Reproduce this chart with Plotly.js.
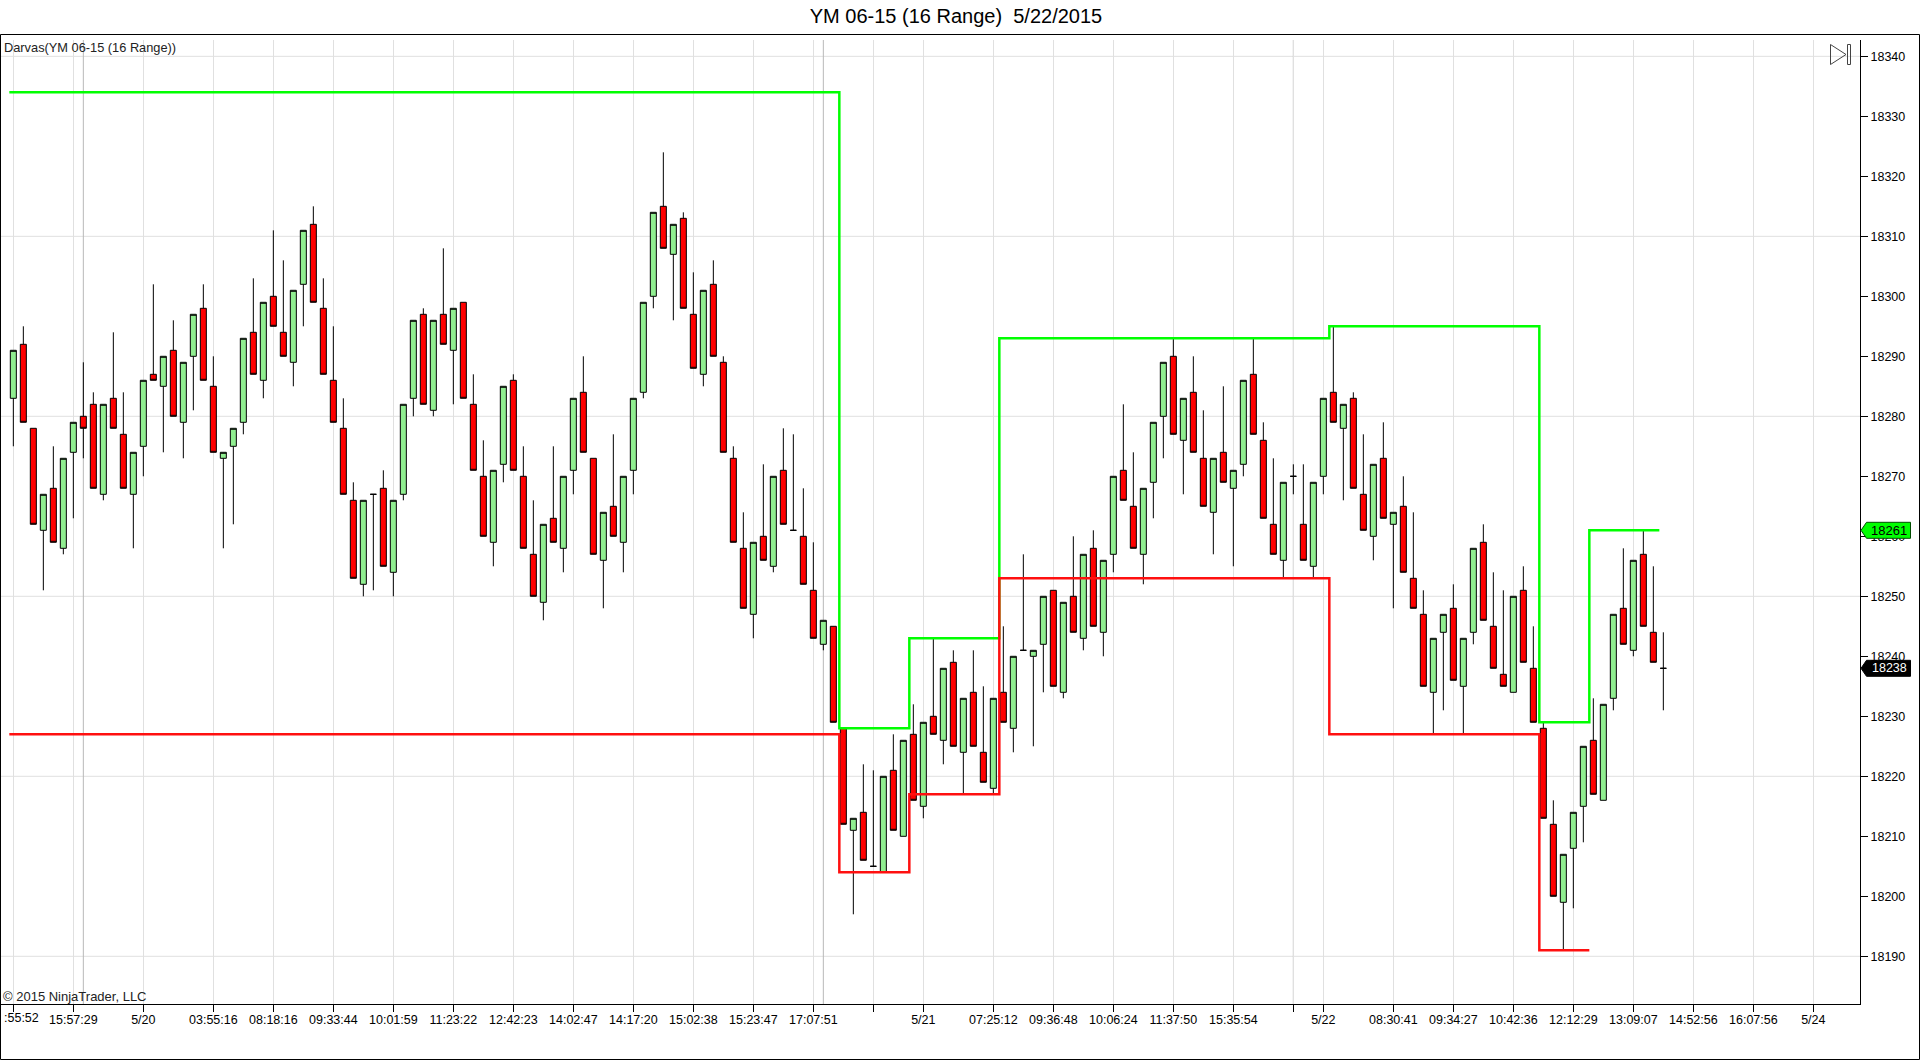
<!DOCTYPE html>
<html>
<head>
<meta charset="utf-8">
<title>YM 06-15 (16 Range) 5/22/2015</title>
<script src="https://cdn.plot.ly/plotly-3.0.1.min.js"></script>
<style>html,body{margin:0;padding:0;background:#fff;overflow:hidden}#chart{width:1920px;height:1060px}</style>
</head>
<body>
<div id="chart"></div>
<script>
const opens = [18283,18292,18278,18261,18268,18258,18274,18280,18282,18267,
18283,18277,18267,18275,18287,18285,18291,18279,18290,18298,
18285,18273,18275,18279,18294,18286,18300,18294,18289,18302,
18312,18298,18286,18278,18266,18252,18267,18268,18254,18267,
18283,18297,18281,18297,18291,18299,18282,18270,18259,18272,
18286,18270,18257,18249,18263,18258,18271,18284,18273,18256,
18265,18259,18271,18284,18300,18315,18307,18313,18297,18287,
18302,18289,18273,18258,18247,18260,18255,18271,18261,18260,
18251,18242,18245,18228,18211,18214,18205,18204,18221,18210,
18227,18215,18230,18226,18239,18224,18234,18224,18218,18234,
18228,18241,18240,18242,18251,18234,18250,18243,18258,18244,
18257,18271,18265,18257,18269,18280,18290,18276,18284,18273,
18264,18274,18268,18272,18287,18276,18262,18256,18270,18262,
18255,18270,18284,18278,18283,18267,18260,18273,18262,18265,
18253,18247,18234,18244,18248,18235,18244,18259,18245,18237,
18234,18251,18238,18228,18212,18199,18208,18215,18226,18216,
18233,18248,18241,18257,18244,18238];
const highs = [18291,18295,18278,18267,18275,18273,18279,18289,18284,18282,
18294,18284,18274,18286,18302,18290,18296,18289,18297,18302,
18290,18274,18278,18293,18303,18299,18311,18306,18301,18311,
18315,18303,18295,18283,18269,18266,18267,18271,18266,18282,
18296,18298,18296,18308,18298,18299,18287,18276,18271,18285,
18287,18275,18266,18262,18275,18270,18283,18290,18273,18264,
18277,18270,18283,18299,18314,18324,18312,18314,18304,18301,
18306,18290,18275,18264,18259,18272,18270,18278,18277,18268,
18259,18246,18245,18228,18213,18222,18221,18220,18227,18226,
18232,18229,18243,18238,18241,18233,18241,18235,18233,18245,
18240,18257,18241,18250,18251,18249,18260,18257,18261,18256,
18270,18282,18274,18268,18279,18289,18293,18283,18290,18281,
18273,18285,18271,18286,18293,18279,18273,18269,18272,18272,
18269,18283,18295,18282,18284,18277,18272,18279,18264,18270,
18264,18251,18243,18247,18252,18243,18258,18262,18254,18251,
18250,18255,18245,18229,18216,18207,18214,18225,18233,18232,
18247,18258,18256,18261,18255,18244];
const lows = [18275,18279,18262,18251,18259,18257,18263,18273,18268,18266,
18278,18268,18258,18270,18286,18274,18280,18273,18281,18286,
18274,18258,18262,18277,18287,18283,18295,18290,18285,18295,
18299,18287,18279,18267,18253,18250,18251,18255,18250,18266,
18280,18282,18280,18292,18282,18283,18271,18260,18255,18269,
18271,18258,18250,18246,18259,18254,18267,18274,18257,18248,
18260,18254,18267,18283,18298,18308,18296,18298,18288,18285,
18290,18274,18259,18248,18243,18256,18254,18262,18261,18252,
18243,18241,18229,18212,18197,18206,18205,18204,18211,18210,
18216,18213,18227,18222,18225,18217,18225,18219,18217,18229,
18224,18241,18225,18234,18235,18233,18244,18241,18245,18240,
18254,18266,18258,18252,18263,18273,18277,18267,18274,18265,
18257,18269,18255,18270,18277,18263,18257,18253,18267,18256,
18253,18267,18279,18266,18268,18261,18256,18263,18248,18254,
18248,18235,18227,18231,18236,18227,18242,18246,18238,18235,
18234,18239,18229,18213,18200,18191,18198,18209,18217,18216,
18231,18242,18240,18245,18239,18231];
const closes = [18291,18279,18262,18267,18259,18273,18279,18278,18268,18282,
18278,18268,18274,18286,18286,18290,18280,18289,18297,18286,
18274,18274,18278,18293,18287,18299,18295,18290,18301,18311,
18299,18287,18279,18267,18253,18266,18267,18255,18266,18282,
18296,18282,18296,18292,18298,18283,18271,18260,18271,18285,
18271,18258,18250,18262,18259,18270,18283,18274,18257,18264,
18260,18270,18283,18299,18314,18308,18312,18298,18288,18301,
18290,18274,18259,18248,18259,18256,18270,18262,18261,18252,
18243,18246,18229,18212,18213,18206,18205,18220,18211,18226,
18216,18229,18227,18238,18225,18233,18225,18219,18233,18229,
18240,18241,18241,18250,18235,18249,18244,18257,18245,18256,
18270,18266,18258,18268,18279,18289,18277,18283,18274,18265,
18273,18269,18271,18286,18277,18263,18257,18269,18270,18256,
18269,18283,18279,18282,18268,18261,18272,18263,18264,18254,
18248,18235,18243,18247,18236,18243,18258,18246,18238,18235,
18250,18239,18229,18213,18200,18207,18214,18225,18217,18232,
18247,18242,18256,18245,18239,18238];

const darvasTopX = [-0.4,82.6,89.6,98.6,131.6,152.6,157.6,164.6];
const darvasTopY = [18334,18228,18243,18293,18295,18229,18261,18261];
const darvasBottomX = [-0.4,82.6,89.6,98.6,131.6,152.6,157.6];
const darvasBottomY = [18227,18204,18217,18253,18227,18191,18191];

const xTickBars = [0,6,13,20,26,32,38,44,50,56,62,68,74,80,86,91,98,104,110,116,122,128,131,138,144,150,156,162,168,174,180];
const xTickLabels = ['','15:57:29','5/20','03:55:16','08:18:16','09:33:44','10:01:59','11:23:22','12:42:23','14:02:47','14:17:20','15:02:38','15:23:47','17:07:51','','5/21','07:25:12','09:36:48','10:06:24','11:37:50','15:35:54','','5/22','08:30:41','09:34:27','10:42:36','12:12:29','13:09:07','14:52:56','16:07:56','5/24'];
const clippedFirstLabel = ':55:52';
const sessionBreakBars = [7,81,128];
const priceTicks = [18190,18200,18210,18220,18230,18240,18250,18260,18270,18280,18290,18300,18310,18320,18330,18340];
const priceGrid = [18190,18220,18250,18280,18310,18340];
const lastHigh = 18261, lastPrice = 18238;

const W = 1920, H = 1060, M = {l:1, r:60, t:40, b:56, pad:0, autoexpand:false};
const px = x => (x - M.l) / (W - M.l - M.r);
const py = y => 1 - (y - M.t) / (H - M.t - M.b);
const barIndex = opens.map((_, i) => i);
const FAMILY = '"Liberation Sans", Arial, sans-serif';
const AXIS_FONT = {family:FAMILY, size:12.5, color:'#000'};

const tagPath = 'M 1 0 L 6.5 -8 L 50.5 -8 L 50.5 8 L 6.5 8 Z';
const shapes = [];
priceGrid.forEach(v => shapes.push({type:'line', xref:'paper', yref:'y', x0:0, x1:1, y0:v, y1:v, layer:'below', line:{color:'#e0e0e0', width:1}}));
sessionBreakBars.forEach(b => shapes.push({type:'line', xref:'x', yref:'paper', x0:b, x1:b, y0:0, y1:1, layer:'below', line:{color:'#b8b8b8', width:1}}));
// outer frame
shapes.push({type:'rect', xref:'paper', yref:'paper', x0:px(0.5), x1:px(1919.5), y0:py(1059.5), y1:py(34.5), line:{color:'#000', width:1}, fillcolor:'rgba(0,0,0,0)'});
// end-of-chart icon
shapes.push({type:'path', xref:'paper', yref:'paper', path:`M ${px(1830.5)} ${py(44.5)} L ${px(1846)} ${py(54.5)} L ${px(1830.5)} ${py(64.5)} Z`, line:{color:'#444', width:1}});
shapes.push({type:'rect', xref:'paper', yref:'paper', x0:px(1847.5), x1:px(1850.5), y0:py(64.5), y1:py(44.5), line:{color:'#444', width:1}});
// price tags
shapes.push({type:'path', xref:'paper', yref:'y', xsizemode:'pixel', ysizemode:'pixel', xanchor:1, yanchor:lastHigh, path:tagPath, fillcolor:'#00ff00', line:{color:'#004d00', width:1}});
shapes.push({type:'path', xref:'paper', yref:'y', xsizemode:'pixel', ysizemode:'pixel', xanchor:1, yanchor:lastPrice, path:tagPath, fillcolor:'#000', line:{color:'#000', width:1}});

const annotations = [
  {xref:'paper', yref:'paper', x:px(1.5), y:py(48), text:'Darvas(YM 06-15 (16 Range))', showarrow:false, xanchor:'left', yanchor:'middle', font:{family:FAMILY, size:12.8, color:'#222'}},
  {xref:'paper', yref:'paper', x:px(1), y:py(996), text:'\u00a9 2015 NinjaTrader, LLC', showarrow:false, xanchor:'left', yanchor:'middle', font:{family:FAMILY, size:13, color:'#222'}},
  {xref:'paper', yref:'paper', x:px(2), y:py(1018), text:clippedFirstLabel, showarrow:false, xanchor:'left', yanchor:'middle', font:AXIS_FONT},
  {xref:'paper', yref:'y', x:px(1889), y:lastHigh, text:String(lastHigh), showarrow:false, xanchor:'center', yanchor:'middle', font:{family:FAMILY, size:13, color:'#000'}},
  {xref:'paper', yref:'y', x:px(1889), y:lastPrice, text:String(lastPrice), showarrow:false, xanchor:'center', yanchor:'middle', font:{family:FAMILY, size:12.5, color:'#fff'}}
];

const traces = [
  {type:'candlestick', x:barIndex, open:opens, high:highs, low:lows, close:closes, whiskerwidth:0,
   increasing:{line:{color:'#000', width:1}, fillcolor:'#90ee90'},
   decreasing:{line:{color:'#000', width:1}, fillcolor:'#ff0000'}, showlegend:false, hoverinfo:'skip'},
  {type:'scatter', mode:'lines', x:darvasTopX, y:darvasTopY, line:{color:'#00ff00', width:2.5, shape:'hv'}, showlegend:false, hoverinfo:'skip'},
  {type:'scatter', mode:'lines', x:darvasBottomX, y:darvasBottomY, line:{color:'#ff1010', width:2.5, shape:'hv'}, showlegend:false, hoverinfo:'skip'}
];

const layout = {
  width:W, height:H, margin:M, paper_bgcolor:'#fff', plot_bgcolor:'#fff', showlegend:false,
  hovermode:false, boxgap:0.14, boxgroupgap:0.3,
  title:{text:'YM 06-15 (16 Range)\u00a0 5/22/2015', font:{family:FAMILY, size:20, color:'#000'}, xref:'container', yref:'container', x:956/W, y:1-16/H, xanchor:'center', yanchor:'middle'},
  xaxis:{type:'linear', range:[-1.233,184.667], rangeslider:{visible:false}, tickmode:'array', tickvals:xTickBars, ticktext:xTickLabels, ticks:'outside', ticklen:7, tickcolor:'#000', tickwidth:1, showgrid:true, gridcolor:'#e0e0e0', gridwidth:1, zeroline:false, showline:true, linecolor:'#000', linewidth:1, tickfont:AXIS_FONT, tickangle:0, ticklabeloverflow:'allow', ticklabelstandoff:-3},
  yaxis:{type:'linear', side:'right', range:[18182.05,18342.72], tickmode:'array', tickvals:priceTicks, ticktext:priceTicks.map(String), ticks:'outside', ticklen:7, tickcolor:'#000', tickwidth:1, showgrid:false, zeroline:false, showline:true, linecolor:'#000', linewidth:1, tickfont:AXIS_FONT, ticklabeloverflow:'allow'},
  shapes, annotations
};
Plotly.newPlot('chart', traces, layout, {displayModeBar:false, staticPlot:true});
</script>
</body>
</html>
